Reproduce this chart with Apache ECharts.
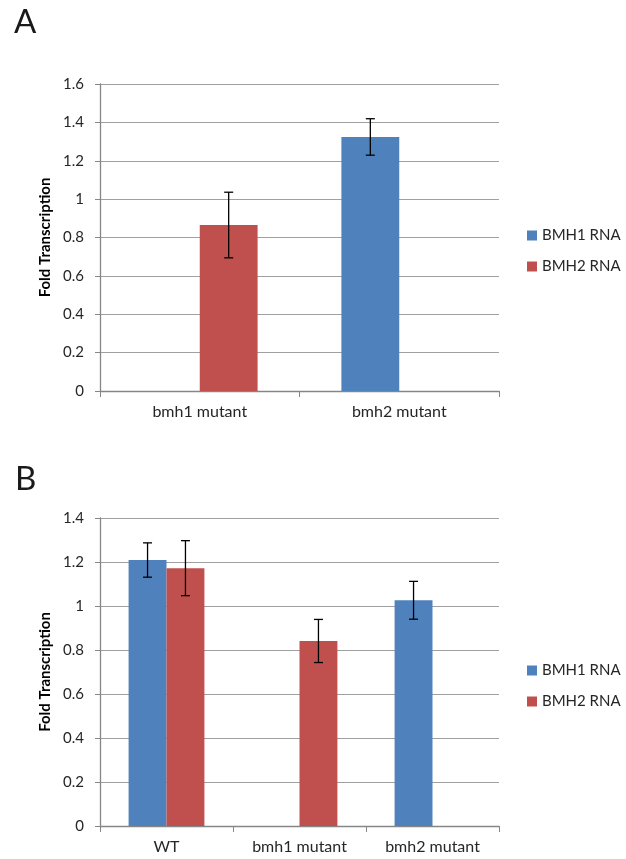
<!DOCTYPE html>
<html>
<head>
<meta charset="utf-8">
<script src="https://cdn.jsdelivr.net/npm/echarts@6/dist/echarts.min.js"></script>
<style>
html,body{margin:0;padding:0;background:#fff;}
#c{width:626px;height:859px;}
</style>
</head>
<body>
<div id="c"></div>
<script>
// Panel A
var categoriesA = ['bmh1 mutant', 'bmh2 mutant'];
var bmh1A = [null, 1.324];
var bmh1ErrA = [null, 0.095];
var bmh2A = [0.865, null];
var bmh2ErrA = [0.171, null];
var ticksA = {min: 0, max: 1.6, interval: 0.2};

// Panel B
var categoriesB = ['WT', 'bmh1 mutant', 'bmh2 mutant'];
var bmh1B = [1.209, null, 1.026];
var bmh1ErrB = [0.078, null, 0.086];
var bmh2B = [1.172, 0.841, null];
var bmh2ErrB = [0.125, 0.098, null];
var ticksB = {min: 0, max: 1.4, interval: 0.2};

var seriesNames = ['BMH1 RNA', 'BMH2 RNA'];
var colors = ['#4f81bd', '#c0504d'];
var FONT = 'Lato, "Open Sans", sans-serif';

function errData(vals, errs) {
  var out = [];
  for (var i = 0; i < vals.length; i++) {
    if (vals[i] != null) out.push([i, vals[i] - errs[i], vals[i] + errs[i]]);
  }
  return out;
}

function errRender(gap, side) {
  return function (params, api) {
    var band = api.size([1, 0])[0];
    var bw = band * (1 - gap) / 2;
    var x0 = api.coord([api.value(0), 0])[0] + side * bw / 2;
    var lo = api.coord([api.value(0), api.value(1)])[1];
    var hi = api.coord([api.value(0), api.value(2)])[1];
    var cap = 4.5;
    var st = {stroke: '#000', lineWidth: 1.3};
    return {
      type: 'group',
      children: [
        {type: 'line', shape: {x1: x0, y1: lo, x2: x0, y2: hi}, style: st},
        {type: 'line', shape: {x1: x0 - cap, y1: lo, x2: x0 + cap, y2: lo}, style: st},
        {type: 'line', shape: {x1: x0 - cap, y1: hi, x2: x0 + cap, y2: hi}, style: st}
      ]
    };
  };
}

function xAxis(cats, gi) {
  return {
    type: 'category', gridIndex: gi, data: cats,
    axisLine: {lineStyle: {color: '#868686', width: 1.3}},
    axisTick: {show: true, length: 6, lineStyle: {color: '#868686'}},
    axisLabel: {color: '#262626', fontSize: 16, fontFamily: FONT, margin: 13},
    splitLine: {show: false}
  };
}
function yAxis(t, gi) {
  return {
    type: 'value', gridIndex: gi, min: t.min, max: t.max, interval: t.interval,
    name: 'Fold Transcription', nameLocation: 'middle', nameGap: 46,
    nameTextStyle: {fontWeight: 'bold', fontSize: 15, color: '#000', fontFamily: FONT},
    axisLine: {show: true, lineStyle: {color: '#868686', width: 1.3}},
    axisTick: {show: true, length: 5, lineStyle: {color: '#868686'}},
    axisLabel: {color: '#262626', fontSize: 15, fontFamily: FONT, margin: 16},
    splitLine: {show: true, lineStyle: {color: '#a0a0a0', width: 1}}
  };
}

var gapA = 0.42, gapB = 0.43;

var option = {
  backgroundColor: '#fff',
  animation: false,
  textStyle: {fontFamily: FONT},
  title: [
    {text: 'A', left: 9, top: 1, textStyle: {fontSize: 33, fontWeight: 'normal', color: '#1a1a1a', fontFamily: FONT}},
    {text: 'B', left: 10, top: 458, textStyle: {fontSize: 33, fontWeight: 'normal', color: '#1a1a1a', fontFamily: FONT}}
  ],
  grid: [
    {left: 100, top: 84, width: 399, height: 307},
    {left: 100, top: 518, width: 399, height: 308}
  ],
  legend: [
    {orient: 'vertical', left: 522, top: 223, itemWidth: 10, itemHeight: 10, itemGap: 16, icon: 'rect',
     data: seriesNames, textStyle: {fontSize: 15, color: '#262626', fontFamily: FONT}},
    {orient: 'vertical', left: 522, top: 658, itemWidth: 10, itemHeight: 10, itemGap: 16, icon: 'rect',
     data: seriesNames, textStyle: {fontSize: 15, color: '#262626', fontFamily: FONT}}
  ],
  xAxis: [xAxis(categoriesA, 0), xAxis(categoriesB, 1)],
  yAxis: [yAxis(ticksA, 0), yAxis(ticksB, 1)],
  series: [
    {name: seriesNames[0], type: 'bar', xAxisIndex: 0, yAxisIndex: 0, data: bmh1A, barGap: '0%', barCategoryGap: (gapA * 100) + '%', itemStyle: {color: colors[0]}},
    {name: seriesNames[1], type: 'bar', xAxisIndex: 0, yAxisIndex: 0, data: bmh2A, barGap: '0%', barCategoryGap: (gapA * 100) + '%', itemStyle: {color: colors[1]}},
    {name: seriesNames[0], type: 'bar', xAxisIndex: 1, yAxisIndex: 1, data: bmh1B, barGap: '0%', barCategoryGap: (gapB * 100) + '%', itemStyle: {color: colors[0]}},
    {name: seriesNames[1], type: 'bar', xAxisIndex: 1, yAxisIndex: 1, data: bmh2B, barGap: '0%', barCategoryGap: (gapB * 100) + '%', itemStyle: {color: colors[1]}},
    {type: 'custom', xAxisIndex: 0, yAxisIndex: 0, renderItem: errRender(gapA, -1), data: errData(bmh1A, bmh1ErrA), z: 10, silent: true},
    {type: 'custom', xAxisIndex: 0, yAxisIndex: 0, renderItem: errRender(gapA, 1), data: errData(bmh2A, bmh2ErrA), z: 10, silent: true},
    {type: 'custom', xAxisIndex: 1, yAxisIndex: 1, renderItem: errRender(gapB, -1), data: errData(bmh1B, bmh1ErrB), z: 10, silent: true},
    {type: 'custom', xAxisIndex: 1, yAxisIndex: 1, renderItem: errRender(gapB, 1), data: errData(bmh2B, bmh2ErrB), z: 10, silent: true}
  ]
};

var chart = echarts.init(document.getElementById('c'), null, {renderer: 'canvas'});
chart.setOption(option);
</script>
</body>
</html>
